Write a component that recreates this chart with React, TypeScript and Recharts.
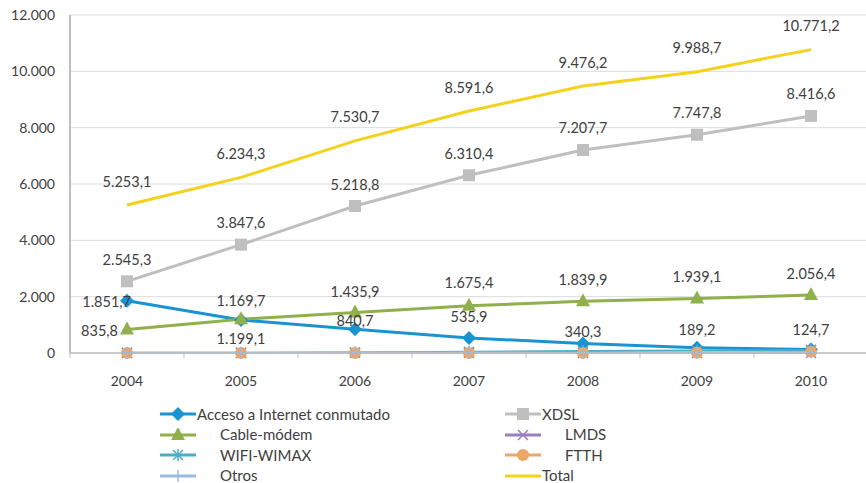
import React from "react";
import { CartesianGrid, LabelList, Line, LineChart, XAxis, YAxis } from "recharts";

const years = ["2004", "2005", "2006", "2007", "2008", "2009", "2010"];
const acceso = [1851.7, 1169.7, 840.7, 535.9, 340.3, 189.2, 124.7];
const xdsl = [2545.3, 3847.6, 5218.8, 6310.4, 7207.7, 7747.8, 8416.6];
const cable = [835.8, 1199.1, 1435.9, 1675.4, 1839.9, 1939.1, 2056.4];
const lmds = [8, 7, 6, 5, 4, 3, 3];
const wifi = [2, 3, 14, 40, 70, 90, 110];
const ftth = [0, 0, 0.3, 2.9, 4.3, 9.6, 40.5];
const otros = [10.3, 7.9, 15, 22, 10, 10, 20];
const total = [5253.1, 6234.3, 7530.7, 8591.6, 9476.2, 9988.7, 10771.2];
const yTicks = [0, 2000, 4000, 6000, 8000, 10000, 12000];

const data = years.map((year, i) => ({
  year,
  acceso: acceso[i],
  xdsl: xdsl[i],
  cable: cable[i],
  lmds: lmds[i],
  wifi: wifi[i],
  ftth: ftth[i],
  otros: otros[i],
  total: total[i],
}));

const FONT = "Lato, 'Open Sans', sans-serif";
const TXT = "#404040";
const BAND = 798 / 7;

// label offsets [dx, dy, anchor] per point
type Place = [number, number, "start" | "middle" | "end"];
const up = (dy: number): Place => [0, -dy, "middle"];
const accesoPlace: Place[] = [[4, 1, "end"], up(20), up(9), up(21), up(12), up(18), up(20)];
const cablePlace: Place[] = [[-9, 1, "end"], [0, 19, "middle"], up(21), up(23), up(22), up(22), up(22)];
const xdslPlace: Place[] = years.map(() => up(22));
const totalPlace: Place[] = years.map(() => up(24));

function fmtNum(v: number, dec: number) {
  const s = v.toFixed(dec);
  const [int, frac] = s.split(".");
  const withDots = int.replace(/\B(?=(\d{3})+(?!\d))/g, ".");
  return frac ? `${withDots},${frac}` : withDots;
}

const makeLabel = (places: Place[]) => (props: any) => {
  const { x, y, value, index } = props;
  const [dx, dy, anchor] = places[index];
  return (
    <text
      x={x + dx}
      y={y + dy}
      textAnchor={anchor}
      dominantBaseline="central"
      fontFamily={FONT}
      fontSize={14.5}
      fill={TXT}
    >
      {fmtNum(value, 1)}
    </text>
  );
};

type Shape = "diamond" | "square" | "triangle" | "x" | "star" | "circle" | "plus" | "none";

function Marker({ shape, cx, cy, color }: { shape: Shape; cx: number; cy: number; color: string }) {
  switch (shape) {
    case "diamond":
      return <polygon points={`${cx},${cy - 7} ${cx + 7},${cy} ${cx},${cy + 7} ${cx - 7},${cy}`} fill={color} />;
    case "square":
      return <rect x={cx - 6} y={cy - 6} width={12} height={12} fill={color} />;
    case "triangle":
      return <polygon points={`${cx},${cy - 8} ${cx + 7},${cy + 5} ${cx - 7},${cy + 5}`} fill={color} />;
    case "x":
      return (
        <g stroke={color} strokeWidth={1.5}>
          <line x1={cx - 5} y1={cy - 5} x2={cx + 5} y2={cy + 5} />
          <line x1={cx - 5} y1={cy + 5} x2={cx + 5} y2={cy - 5} />
        </g>
      );
    case "star":
      return (
        <g stroke={color} strokeWidth={1.5}>
          <line x1={cx - 5} y1={cy - 5} x2={cx + 5} y2={cy + 5} />
          <line x1={cx - 5} y1={cy + 5} x2={cx + 5} y2={cy - 5} />
          <line x1={cx} y1={cy - 6} x2={cx} y2={cy + 6} />
        </g>
      );
    case "circle":
      return <circle cx={cx} cy={cy} r={6} fill={color} />;
    case "plus":
      return (
        <g stroke={color} strokeWidth={1.5}>
          <line x1={cx} y1={cy - 6} x2={cx} y2={cy + 6} />
          <line x1={cx - 6} y1={cy} x2={cx + 6} y2={cy} />
        </g>
      );
    default:
      return null;
  }
}

const series: { key: string; name: string; color: string; shape: Shape; width: number; places?: Place[] }[] = [
  { key: "acceso", name: "Acceso a Internet conmutado", color: "#1a93d1", shape: "diamond", width: 3, places: accesoPlace },
  { key: "xdsl", name: "XDSL", color: "#BFBFBF", shape: "square", width: 3, places: xdslPlace },
  { key: "cable", name: "Cable-módem", color: "#8FB04A", shape: "triangle", width: 3, places: cablePlace },
  { key: "lmds", name: "LMDS", color: "#9B7DC0", shape: "x", width: 2 },
  { key: "wifi", name: "WIFI-WIMAX", color: "#4BACC6", shape: "star", width: 2 },
  { key: "ftth", name: "FTTH", color: "#EFA566", shape: "circle", width: 2 },
  { key: "otros", name: "Otros", color: "#9DBBE0", shape: "plus", width: 2 },
  { key: "total", name: "Total", color: "#F5D21A", shape: "none", width: 3, places: totalPlace },
];

const legendRows = [
  ["acceso", "xdsl"],
  ["cable", "lmds"],
  ["wifi", "ftth"],
  ["otros", "total"],
];
const noIndent = ["acceso", "xdsl", "total"];

function LegendItem({ k }: { k: string }) {
  const s = series.find((d) => d.key === k)!;
  return (
    <div style={{ display: "flex", alignItems: "center", height: 20.5 }}>
      <svg width={36} height={14} style={{ flex: "none" }}>
        <line x1={0} y1={7} x2={36} y2={7} stroke={s.color} strokeWidth={3} />
        <Marker shape={s.shape} cx={18} cy={7} color={s.color} />
      </svg>
      <span style={{ marginLeft: noIndent.includes(k) ? 1 : 24, whiteSpace: "nowrap", lineHeight: 1 }}>{s.name}</span>
    </div>
  );
}

const XTick = (props: any) => {
  const { x, y, payload, index } = props;
  return (
    <g>
      <line x1={x - BAND / 2} y1={y} x2={x - BAND / 2} y2={y + 5} stroke="#BFBFBF" />
      {index === years.length - 1 && (
        <line x1={x + BAND / 2} y1={y} x2={x + BAND / 2} y2={y + 5} stroke="#BFBFBF" />
      )}
      <text x={x} y={y + 27} textAnchor="middle" dominantBaseline="central" fontFamily={FONT} fontSize={14} fill={TXT}>
        {payload.value}
      </text>
    </g>
  );
};

export default function App() {
  return (
    <div style={{ position: "absolute", left: 0, top: 0, width: 866, height: 483, background: "#fff", overflow: "hidden" }}>
      <LineChart width={868} height={483} data={data} margin={{ top: 15, right: 0, left: 0, bottom: 100 }}>
        <CartesianGrid vertical={false} stroke="#DCDCDC" />
        <XAxis
          dataKey="year"
          axisLine={{ stroke: "#BFBFBF", strokeWidth: 1.5 }}
          tickLine={false}
          tickSize={0}
          tickMargin={0}
          height={30}
          interval={0}
          padding={{ left: BAND / 2, right: BAND / 2 }}
          tick={<XTick />}
        />
        <YAxis
          domain={[0, 12000]}
          ticks={yTicks}
          width={70}
          axisLine={{ stroke: "#BFBFBF", strokeWidth: 2 }}
          tickLine={false}
          tickSize={0}
          tickMargin={15}
          tickFormatter={(v: number) => fmtNum(v, 0)}
          tick={{ fontFamily: FONT, fontSize: 14, fill: TXT }}
        />
        {series.map((s) => (
          <Line
            key={s.key}
            dataKey={s.key}
            name={s.name}
            type="linear"
            stroke={s.color}
            strokeWidth={s.width}
            isAnimationActive={false}
            dot={(p: any) => <Marker key={`${s.key}-${p.index}`} shape={s.shape} cx={p.cx} cy={p.cy} color={s.color} />}
            activeDot={false}
          >
            {s.places && <LabelList dataKey={s.key} content={makeLabel(s.places)} />}
          </Line>
        ))}
      </LineChart>
      <div
        style={{
          position: "absolute",
          left: 160,
          top: 404,
          display: "grid",
          gridTemplateColumns: "345px 200px",
          fontFamily: FONT,
          fontSize: 15,
          color: TXT,
        }}
      >
        {legendRows.map((row) => row.map((k) => <LegendItem key={k} k={k} />))}
      </div>
    </div>
  );
}
